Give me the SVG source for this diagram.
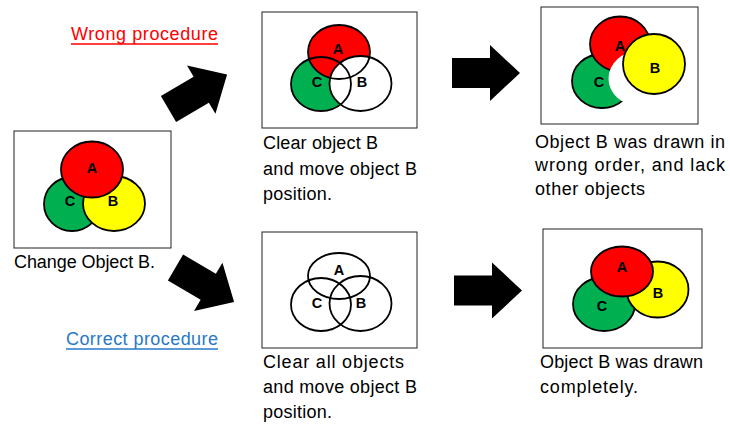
<svg xmlns="http://www.w3.org/2000/svg" width="730" height="426" viewBox="0 0 730 426">
<style>
.frame{fill:#fff;stroke:#222;stroke-width:1}
.o{stroke:#000;stroke-width:1.8}
.r{fill:#ff0000}.g{fill:#00b050}.y{fill:#ffff00}.w{fill:#fff}.n{fill:none}
.lbl{font-family:"Liberation Sans",Arial,sans-serif;font-weight:bold;font-size:14.5px;text-anchor:middle;fill:#000}
.t{font-family:"Liberation Sans",Arial,sans-serif;font-size:18px;fill:#000}
.arrow{fill:#000}
</style>
<defs>
<polygon id="arr" points="0,-15 38,-15 38,-28 68,0 38,28 38,15 0,15"/>
</defs>
<rect width="730" height="426" fill="#fff"/>

<g id="wrong-label">
<text class="t" x="71" y="40" style="fill:#ff0000" textLength="147">Wrong procedure</text>
<line x1="71" y1="44" x2="218" y2="44" stroke="#ff0000" stroke-width="1.3"/>
</g>
<g id="correct-label">
<text class="t" x="66" y="345" style="fill:#2878c8" textLength="152">Correct procedure</text>
<line x1="66" y1="349" x2="218" y2="349" stroke="#2878c8" stroke-width="1.3"/>
</g>

<g id="start">
<rect class="frame" x="14" y="131" width="157" height="117"/>
<ellipse class="g o" cx="72" cy="204" rx="28" ry="27"/>
<ellipse class="y o" cx="114" cy="203.5" rx="31" ry="27.5"/>
<ellipse class="r o" cx="92" cy="169.5" rx="31" ry="28"/>
<text class="lbl" x="92" y="173">A</text>
<text class="lbl" x="70" y="206">C</text>
<text class="lbl" x="113" y="206">B</text>
<text class="t" x="14" y="268" textLength="141">Change Object B.</text>
</g>

<g id="wrong-step1">
<rect class="frame" x="262" y="12" width="155" height="116"/>
<ellipse class="g" cx="321" cy="84" rx="30" ry="27"/>
<ellipse class="r" cx="339" cy="52" rx="31" ry="27"/>
<ellipse class="w" cx="360.5" cy="83.5" rx="31" ry="27.5"/>
<ellipse class="n o" cx="321" cy="84" rx="30" ry="27"/>
<ellipse class="n o" cx="339" cy="52" rx="31" ry="27"/>
<ellipse class="n o" cx="360.5" cy="83.5" rx="31" ry="27.5"/>
<text class="lbl" x="338" y="54">A</text>
<text class="lbl" x="317" y="87">C</text>
<text class="lbl" x="362" y="87">B</text>
<text class="t" x="263" y="149" textLength="115">Clear object B</text>
<text class="t" x="263" y="175" textLength="154">and move object B</text>
<text class="t" x="263" y="200" textLength="69">position.</text>
</g>

<g id="wrong-result">
<rect class="frame" x="541" y="7" width="157" height="117"/>
<ellipse class="g o" cx="602" cy="81" rx="30" ry="27"/>
<ellipse class="r o" cx="620" cy="44" rx="30" ry="27.5"/>
<ellipse class="w" cx="639.5" cy="78.5" rx="31" ry="27.5"/>
<ellipse class="y o" cx="654" cy="64" rx="31" ry="30"/>
<text class="lbl" x="620" y="51">A</text>
<text class="lbl" x="655" y="73">B</text>
<text class="lbl" x="599" y="87">C</text>
<text class="t" x="535" y="148" textLength="190">Object B was drawn in</text>
<text class="t" x="535" y="171" textLength="190">wrong order, and lack</text>
<text class="t" x="535" y="195" textLength="110">other objects</text>
</g>

<g id="correct-step1">
<rect class="frame" x="262" y="232" width="155" height="116"/>
<ellipse class="n o" cx="339" cy="276" rx="31" ry="23"/>
<ellipse class="n o" cx="321" cy="304.5" rx="30" ry="26.5"/>
<ellipse class="n o" cx="360.5" cy="303.5" rx="31" ry="27.5"/>
<text class="lbl" x="339" y="275">A</text>
<text class="lbl" x="317" y="308">C</text>
<text class="lbl" x="361" y="308">B</text>
<text class="t" x="263" y="368" textLength="141">Clear all objects</text>
<text class="t" x="263" y="393" textLength="154">and move object B</text>
<text class="t" x="263" y="418" textLength="69">position.</text>
</g>

<g id="correct-result">
<rect class="frame" x="543" y="229" width="159" height="119"/>
<ellipse class="g o" cx="604" cy="304" rx="31" ry="27"/>
<ellipse class="y o" cx="657.5" cy="289.5" rx="31" ry="28"/>
<ellipse class="r o" cx="622" cy="271.5" rx="31" ry="25"/>
<text class="lbl" x="622" y="272">A</text>
<text class="lbl" x="658" y="298">B</text>
<text class="lbl" x="602" y="311">C</text>
<text class="t" x="540" y="368" textLength="163">Object B was drawn</text>
<text class="t" x="540" y="393" textLength="98">completely.</text>
</g>

<g id="connectors">
<use href="#arr" class="arrow" transform="translate(168.5,109) rotate(-30.5)"/>
<use href="#arr" class="arrow" transform="translate(175.5,267.5) rotate(30.5)"/>
<use href="#arr" class="arrow" transform="translate(452,73)"/>
<use href="#arr" class="arrow" transform="translate(454,290.5)"/>
</g>
</svg>
